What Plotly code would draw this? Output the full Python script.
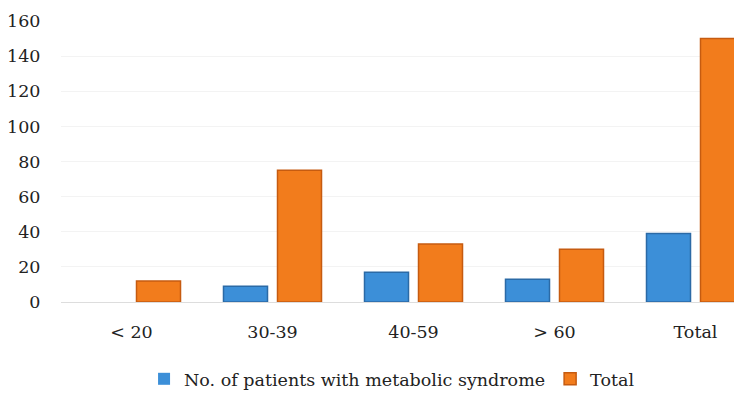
import plotly.graph_objects as go

categories = ["< 20", "30-39", "40-59", "> 60", "Total"]
patients_metabolic = [0, 9, 17, 13, 39]
total_patients = [12, 75, 33, 30, 150]
y_ticks = [0, 20, 40, 60, 80, 100, 120, 140, 160]

FONT = "DejaVu Serif"
FS = 17.5

fig = go.Figure()
fig.add_trace(go.Bar(
    x=categories, y=patients_metabolic,
    name="No. of patients with metabolic syndrome",
    marker=dict(color="#3c8fd8",
                line=dict(color="#2b6aa6", width=[0 if v == 0 else 1.5 for v in patients_metabolic])),
))
fig.add_trace(go.Bar(
    x=categories, y=total_patients,
    name="Total",
    marker=dict(color="#f27c1c",
                line=dict(color="#c65b10", width=[0 if v == 0 else 1.5 for v in total_patients])),
))

fig.update_layout(
    width=726, height=382,
    margin=dict(l=53, r=0, t=13, b=88, autoexpand=False),
    paper_bgcolor="white", plot_bgcolor="white",
    barmode="group", bargap=0.234, bargroupgap=0.185,
    font=dict(family=FONT, size=FS, color="#222222"),
    showlegend=True,
    legend=dict(orientation="h", x=0.529, xanchor="center", xref="container",
                y=0.029, yanchor="middle", yref="container",
                font=dict(family=FONT, size=FS, color="#222222"),
                itemwidth=30, traceorder="normal"),
    xaxis=dict(range=[-0.5, 4.273], showgrid=False, showline=False, automargin=False,
               zeroline=False, ticks="outside", ticklen=14, tickcolor="rgba(0,0,0,0)",
               tickfont=dict(family=FONT, size=FS)),
    yaxis=dict(range=[0, 160], tickvals=y_ticks, showgrid=True, gridcolor="#f3f3f3",
               automargin=False,
               zeroline=True, zerolinecolor="#dddddd", zerolinewidth=1,
               showline=False, ticks="outside", ticklen=16, tickcolor="rgba(0,0,0,0)",
               tickfont=dict(family=FONT, size=FS)),
)

fig.write_html("out.html")
